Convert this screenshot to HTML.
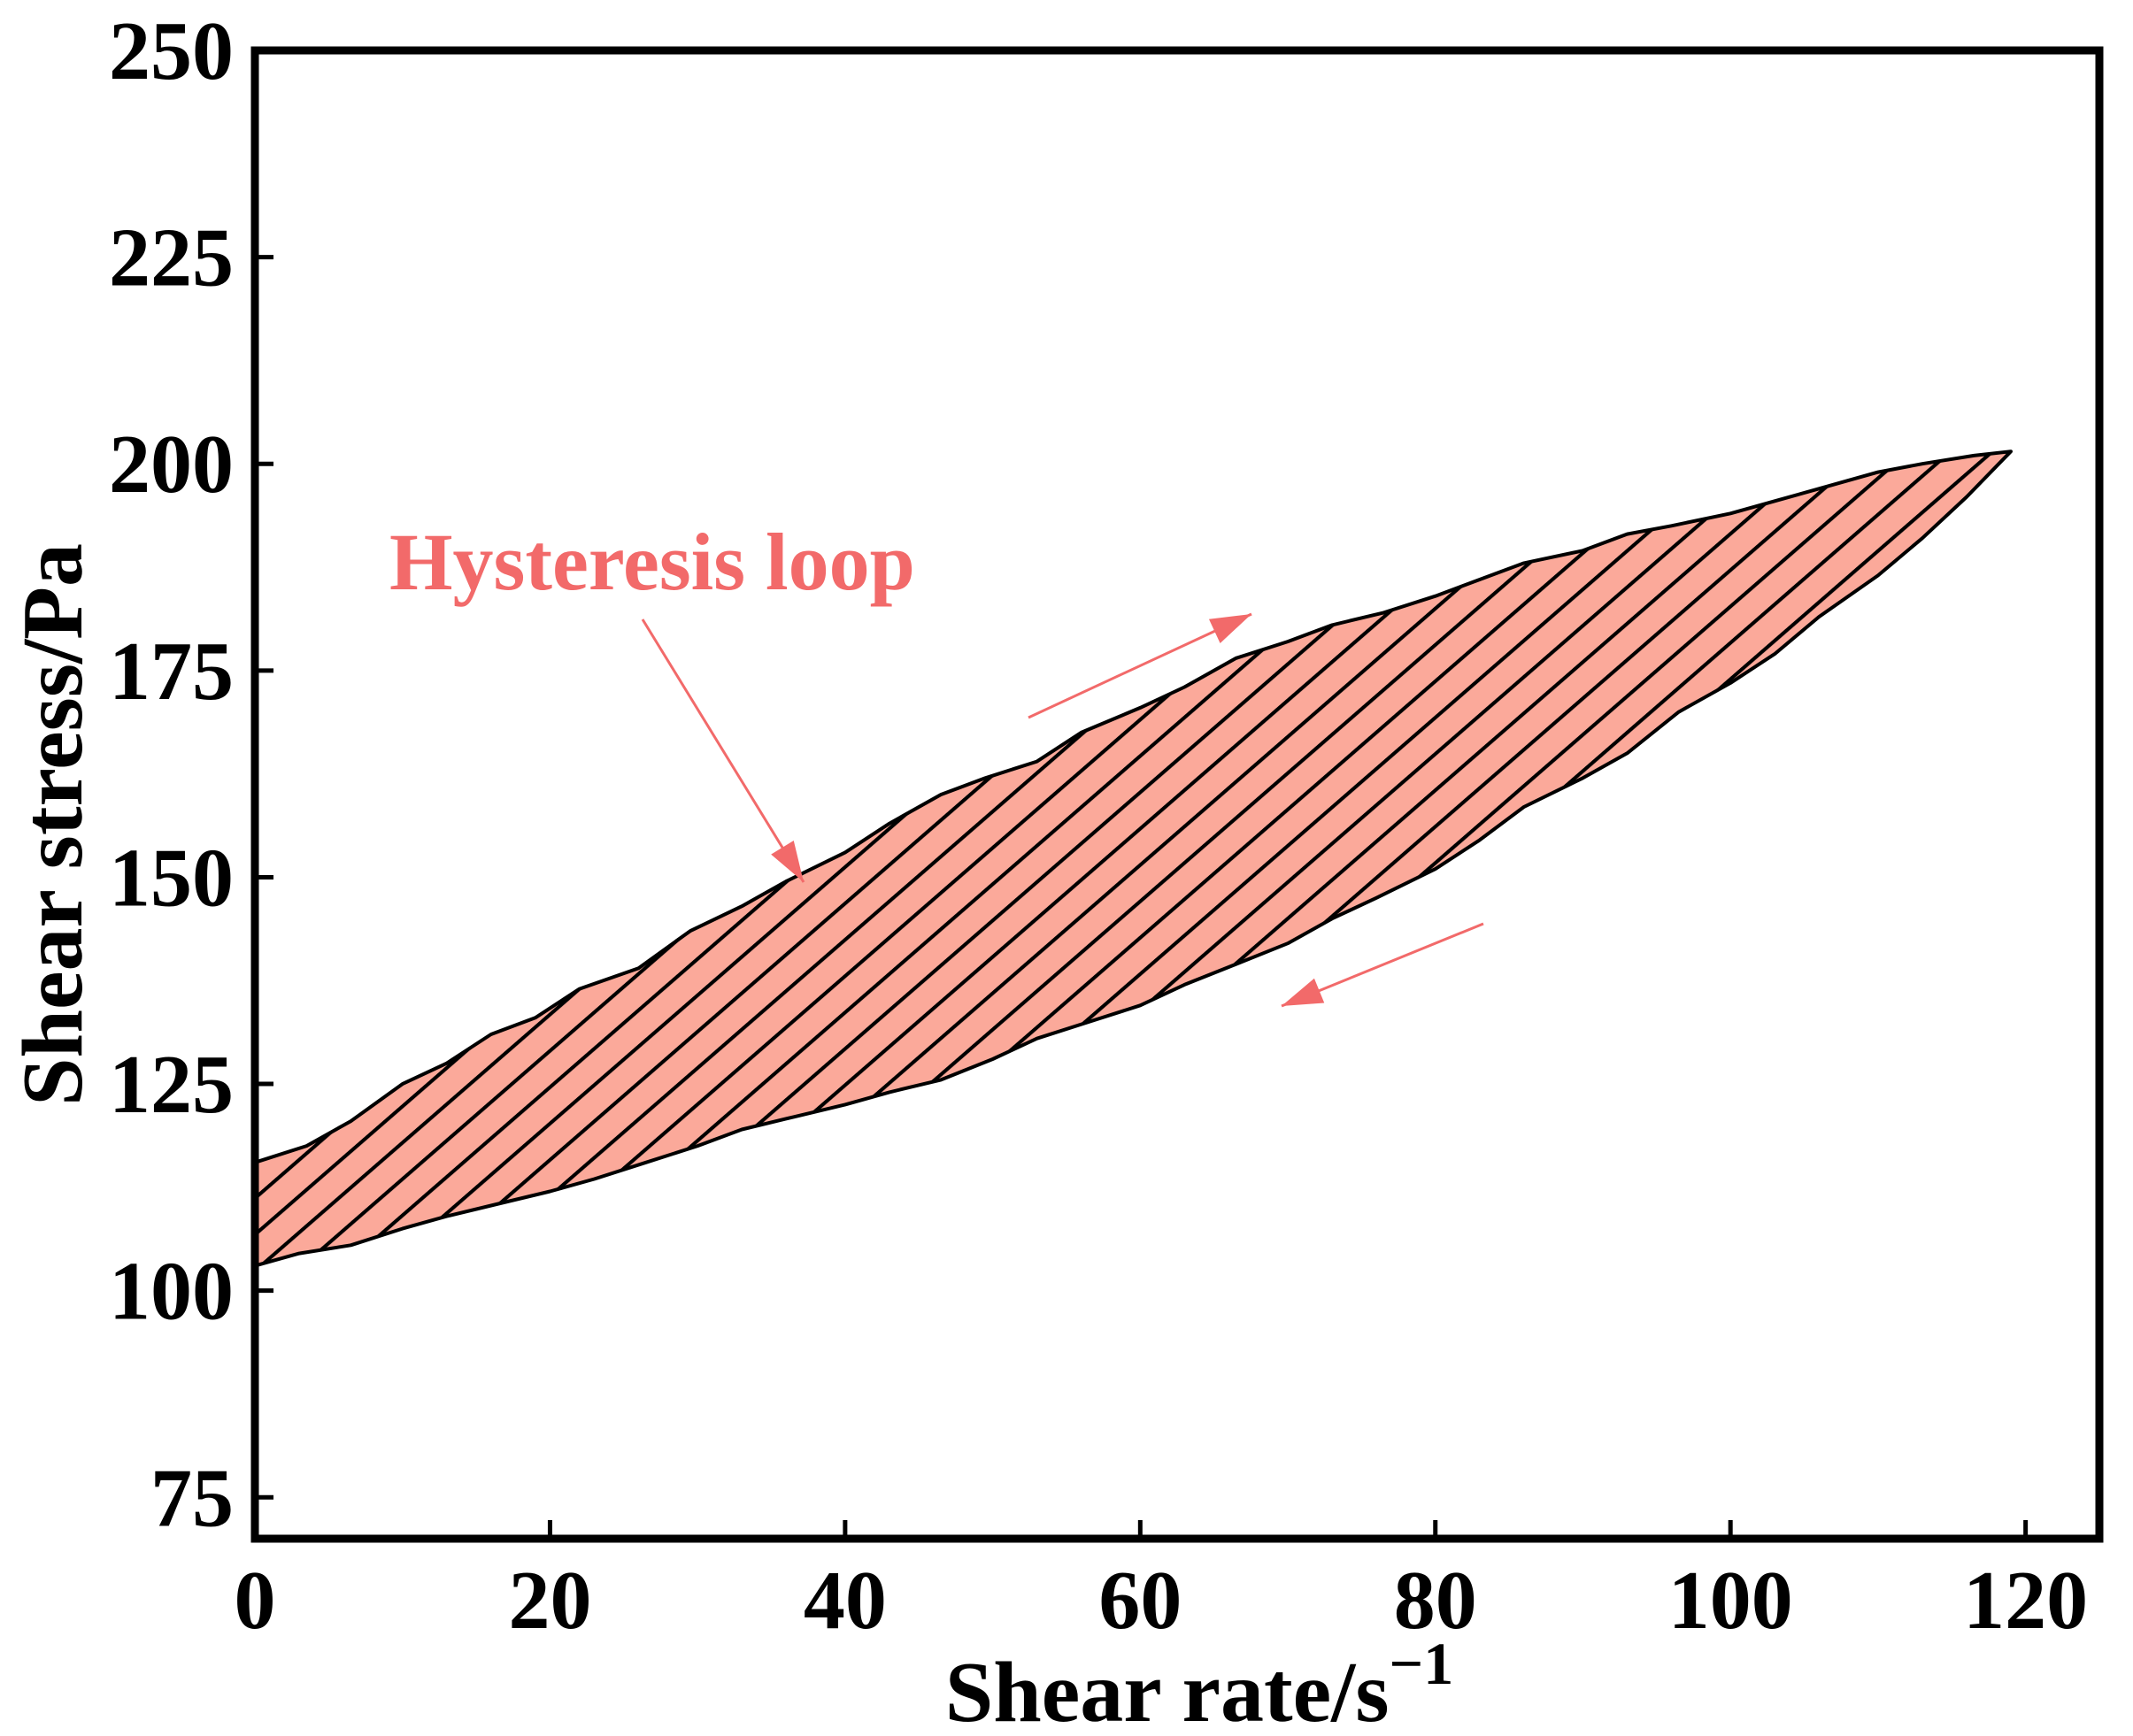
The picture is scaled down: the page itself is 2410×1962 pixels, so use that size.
<!DOCTYPE html>
<html><head><meta charset="utf-8"><style>
html,body{margin:0;padding:0;background:#fff;}
svg{display:block;font-family:"Liberation Serif",serif;font-weight:bold;}
</style></head><body>
<svg id="chart" width="2410" height="1962" viewBox="0 0 2410 1962" xmlns="http://www.w3.org/2000/svg">
<defs>
<pattern id="hatch" patternUnits="userSpaceOnUse" width="31" height="31" patternTransform="rotate(49)">
<rect width="31" height="31" fill="#fba99a"/>
<line x1="2" y1="-5" x2="2" y2="36" stroke="#000" stroke-width="4.2"/>
</pattern>
</defs>
<g id="plot"></g>
<g id="axes"></g>
</svg>
<script>
const upX = [0,3.5,6.5,10,13,16,19,22,26,29.5,33,36,40,43,46.5,49.5,53,56,60,63,66.5,70,73,76.5,80,83,86,90,93,96,100,103,106,110,113,116.5,119];
const upY = [115.5,117.5,120.5,125,127.5,131,133,136.5,139,143.5,146.5,149.5,153,156.5,160,162,164,167.5,170.5,173,176.5,178.5,180.5,182,184,186,188,189.5,191.5,192.5,194,195.5,197,199,200,201,201.5];
const downX = [0,3,6.5,10,13,16.5,20,23,26.5,30,33,36.5,40,43,46.5,50,53,56.5,60,63,66.5,70,73,76,80,83,86,90,93,96.5,100,103,106,110,113,116,119];
const downY = [103,104.5,105.5,107.5,109,110.5,112,113.5,115.5,117.5,119.5,121,122.5,124,125.5,128,130.5,132.5,134.5,137,139.5,142,145,147.5,151,154.5,158.5,162,165,170,173.5,177,181.5,186.5,191,196,201.5];
const xTicks = [0,20,40,60,80,100,120];
const yTicks = [75,100,125,150,175,200,225,250];

const X0=288, X1=2372, Y0=1739, Y1=57, xMin=0, xMax=125, yMin=70, yMax=250;
const sx = v => X0 + (v - xMin) / (xMax - xMin) * (X1 - X0);
const sy = v => Y0 - (v - yMin) / (yMax - yMin) * (Y0 - Y1);
const NS = "http://www.w3.org/2000/svg";
const plot = document.getElementById('plot');
const axes = document.getElementById('axes');
function mk(tag, attrs, parent, text){
  const e = document.createElementNS(NS, tag);
  for (const k in attrs) e.setAttribute(k, attrs[k]);
  if (text !== undefined) e.textContent = text;
  parent.appendChild(e);
  return e;
}
let pts = [];
for (let i=0;i<upX.length;i++) pts.push(sx(upX[i]).toFixed(1)+','+sy(upY[i]).toFixed(1));
for (let i=downX.length-1;i>=0;i--) pts.push(sx(downX[i]).toFixed(1)+','+sy(downY[i]).toFixed(1));
const poly = mk('polygon',{points:pts.join(' '),fill:'url(#hatch)',stroke:'#000','stroke-width':4,'stroke-linejoin':'round'},plot);



const red = '#f26a6a';
const ann = mk('text',{x:440,y:666,fill:red,'font-size':92},plot,'Hysteresis loop');


function arrow(x1,y1,x2,y2,name){
  const g = mk('g',{},plot);
  
  
  mk('line',{x1:x1,y1:y1,x2:x2,y2:y2,stroke:red,'stroke-width':3},g);
  const a = Math.atan2(y2-y1,x2-x1), L=46, W=15;
  const bx = x2 - L*Math.cos(a), by = y2 - L*Math.sin(a);
  const p = [x2+','+y2,(bx - W*Math.sin(a))+','+(by + W*Math.cos(a)),(bx + W*Math.sin(a))+','+(by - W*Math.cos(a))];
  mk('polygon',{points:p.join(' '),fill:red},g);
}
arrow(726,700,908,997,'annotation-arrow');
arrow(1162,811,1414,694,'upward-arrow');
arrow(1676,1044,1448,1137,'downward-arrow');

const frame = mk('rect',{x:X0,y:Y1,width:X1-X0,height:Y0-Y1,fill:'none',stroke:'#000','stroke-width':9},axes);


for (const t of xTicks){
  const x = sx(t);
  const tk = mk('line',{x1:x,y1:Y0,x2:x,y2:Y0-21,stroke:'#000','stroke-width':5},axes);
  
  
  const lb = mk('text',{x:x,y:1840,'text-anchor':'middle','font-size':94},axes,String(t));
  
  
}
for (const t of yTicks){
  const y = sy(t);
  const tk = mk('line',{x1:X0,y1:y,x2:X0+21,y2:y,stroke:'#000','stroke-width':5},axes);
  
  
  const lb = mk('text',{x:264,y:y+32,'text-anchor':'end','font-size':94},axes,String(t));
  
  
}
const xt = mk('text',{x:1355,y:1945,'text-anchor':'middle','font-size':98},axes);


mk('tspan',{},xt,'Shear rate/s');
mk('tspan',{dy:-42,'font-size':68},xt,'\u22121');
const yt = mk('text',{x:0,y:0,'text-anchor':'middle','font-size':98,transform:'translate(92,932) rotate(-90)'},axes,'Shear stress/Pa');


</script>
</body></html>
